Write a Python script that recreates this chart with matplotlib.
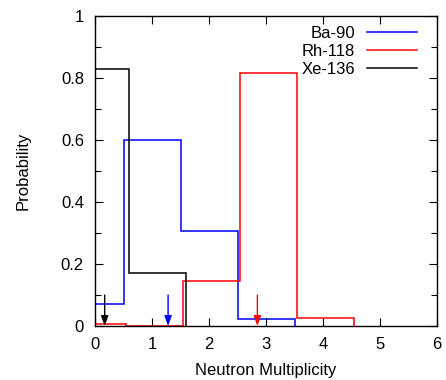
import numpy as np
import matplotlib
matplotlib.use("Agg")
import matplotlib.pyplot as plt
from matplotlib.ticker import MultipleLocator
from matplotlib.lines import Line2D

plt.rcParams['font.family'] = ['Liberation Sans', 'DejaVu Sans']
plt.rcParams['font.size'] = 12

# --- データ ---
labels = ["Ba-90", "Rh-118", "Xe-136"]
colors = ["blue", "red", "black"]
offsets = [0.0, 0.05, 0.1]  # 重なり回避のための横ずらし
prob_ba90 = [0.07, 0.60, 0.305, 0.024]
prob_rh118 = [0.008, 0.0, 0.146, 0.816, 0.027]
prob_xe136 = [0.83, 0.17]
series = [prob_ba90, prob_rh118, prob_xe136]

fig = plt.figure(figsize=(4.46, 3.8), dpi=100)
ax = fig.add_axes([0.213, 0.142, 0.767, 0.816])

for probs, lab, col, off in zip(series, labels, colors, offsets):
    probs = np.array(probs)
    n = np.arange(len(probs))
    edges = np.append(n - 0.5, n[-1] + 0.5) + off
    ax.stairs(probs, edges, baseline=0, color=col, lw=1.1)
    # 平均値の矢印
    mean = np.sum(n * probs)
    ax.annotate("", xy=(mean, 0.0), xytext=(mean, 0.1),
                arrowprops=dict(arrowstyle="-|>,head_length=0.5,head_width=0.18",
                                color=col, lw=1.0, shrinkA=0, shrinkB=0))

ax.set_xlim(0, 6)
ax.set_ylim(0, 1)
ax.xaxis.set_major_locator(MultipleLocator(1))
ax.yaxis.set_minor_locator(MultipleLocator(0.1))
ax.set_yticks([0, 0.2, 0.4, 0.6, 0.8, 1.0])
ax.set_yticklabels(["0", "0.2", "0.4", "0.6", "0.8", "1"])
ax.tick_params(which="both", direction="in", top=True, right=True, width=0.8)
ax.tick_params(which="major", length=6, pad=8)
ax.tick_params(which="minor", length=4)
for s in ax.spines.values():
    s.set_linewidth(1.0)

ax.set_xlabel("Neutron Multiplicity", labelpad=8)
ax.set_ylabel("Probability", labelpad=22)

# 凡例（テキスト右寄せ、線は右側）
handles = [Line2D([], [], color=c, lw=1.1) for c in colors]
ax.legend(handles, labels, loc="upper right", frameon=False, markerfirst=False,
          handlelength=3.0, handletextpad=0.7, labelspacing=0.18,
          borderaxespad=0.0, bbox_to_anchor=(0.96, 0.99))

fig.savefig("out.png", dpi=100)
